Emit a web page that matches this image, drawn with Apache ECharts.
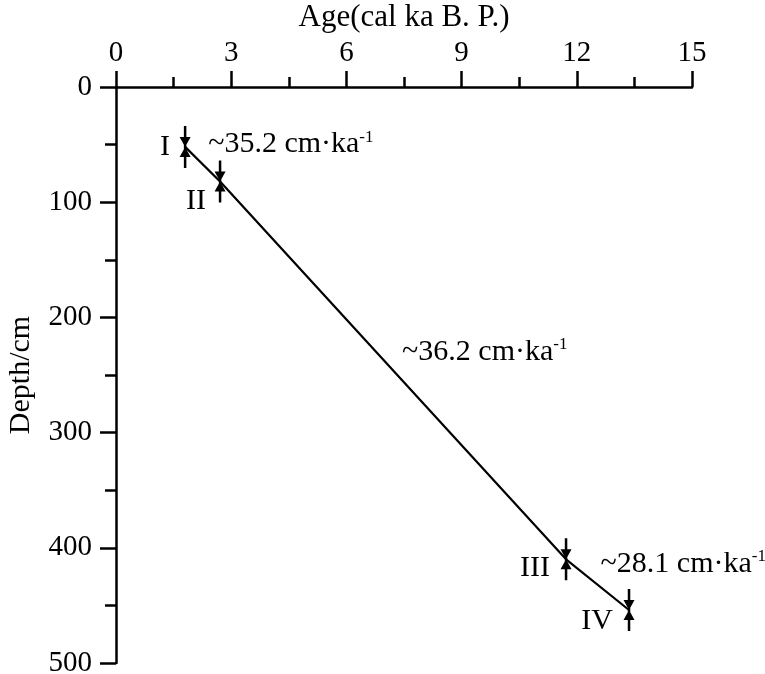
<!DOCTYPE html>
<html>
<head>
<meta charset="utf-8">
<script src="https://cdn.jsdelivr.net/npm/echarts@6/dist/echarts.min.js"></script>
<style>
  html, body { margin: 0; padding: 0; background: #fff; }
  #chart { width: 765px; height: 674px; }
</style>
</head>
<body>
<div id="chart"></div>
<script>
// dated samples
const sampleNames = ['I', 'II', 'III', 'IV'];
const sampleAges = [1.80, 2.71, 11.72, 13.36];
const sampleDepths = [52, 82, 410, 454];

// sedimentation rate annotations
const rateTexts = ['~35.2', '~36.2', '~28.1'];
const rateAges = [2.40, 7.45, 12.62];
const rateDepths = [50, 230, 414];

const xTicks = [0, 3, 6, 9, 12, 15];
const yTicks = [0, 100, 200, 300, 400, 500];

const FONT = 'Liberation Serif';
const labelOffsets = [[-20, 0], [-24, 20], [-31, 9], [-32, 11]];

// vertical bar with two arrowheads meeting at the sample depth
const markerPath = 'path://M4.25,0 H6.75 V42 H4.25 Z M0,11 H11 L5.5,21 Z M0,31 L5.5,21 L11,31 Z';

function initChart() {
    const chart = echarts.init(document.getElementById('chart'));

    const linePts = sampleAges.map((a, i) => [a, sampleDepths[i]]);
    const markerPts = sampleAges.map((a, i) => ({
        value: [a, sampleDepths[i]],
        name: sampleNames[i],
        label: { offset: labelOffsets[i] }
    }));
    const ratePts = rateAges.map((a, i) => ({
        value: [a, rateDepths[i]],
        name: rateTexts[i]
    }));

    const black = { color: '#000', width: 2.5 };

    chart.setOption({
        animation: false,
        grid: { left: 116, right: 73, top: 87, bottom: 11, outerBoundsMode: 'none' },
        xAxis: {
            type: 'value',
            position: 'top',
            min: xTicks[0],
            max: xTicks[xTicks.length - 1],
            interval: 3,
            name: 'Age(cal ka B. P.)',
            nameLocation: 'middle',
            nameGap: 54,
            nameTextStyle: { color: '#000', fontFamily: FONT, fontSize: 31 },
            axisLine: { onZero: false, lineStyle: black },
            axisTick: { show: true, length: 16, lineStyle: black },
            minorTick: { show: true, splitNumber: 2, length: 10, lineStyle: black },
            splitLine: { show: false },
            axisLabel: { color: '#000', fontFamily: FONT, fontSize: 29, margin: 19 }
        },
        yAxis: {
            type: 'value',
            inverse: true,
            min: yTicks[0],
            max: yTicks[yTicks.length - 1],
            interval: 100,
            name: 'Depth/cm',
            nameLocation: 'middle',
            nameGap: 80,
            nameTextStyle: { color: '#000', fontFamily: FONT, fontSize: 30 },
            axisLine: { onZero: false, lineStyle: black },
            axisTick: { show: true, length: 16, lineStyle: black },
            minorTick: { show: true, splitNumber: 2, length: 11, lineStyle: black },
            splitLine: { show: false },
            axisLabel: { color: '#000', fontFamily: FONT, fontSize: 29, margin: 24 }
        },
        series: [
            {
                type: 'line',
                data: linePts,
                symbol: 'none',
                lineStyle: { color: '#000', width: 2.2 },
                z: 2
            },
            {
                type: 'scatter',
                data: markerPts,
                symbol: markerPath,
                symbolSize: [11, 42],
                itemStyle: { color: '#000', opacity: 1 },
                label: {
                    show: true,
                    position: 'inside',
                    formatter: '{b}',
                    color: '#000',
                    fontFamily: FONT,
                    fontSize: 30
                },
                z: 3
            },
            {
                type: 'scatter',
                data: ratePts,
                symbolSize: 0,
                itemStyle: { opacity: 1 },
                label: {
                    show: true,
                    position: 'right',
                    distance: 0,
                    formatter: p => '{a|' + p.name + ' cm·ka}{s|-1}',
                    rich: {
                        a: { color: '#000', fontFamily: FONT, fontSize: 30 },
                        s: { color: '#000', fontFamily: FONT, fontSize: 17, padding: [0, 0, 14, 0] }
                    }
                }
            }
        ]
    });
}

initChart();
</script>
</body>
</html>
